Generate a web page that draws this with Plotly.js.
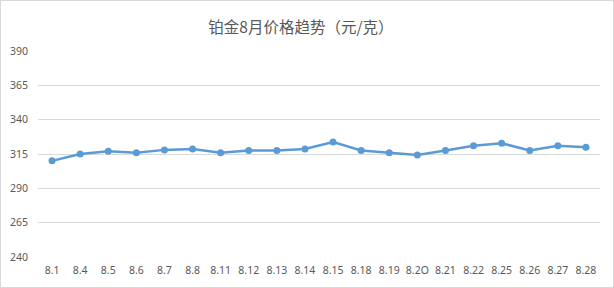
<!DOCTYPE html>
<html>
<head>
<meta charset="utf-8">
<script src="https://cdn.plot.ly/plotly-3.0.1.min.js"></script>
<style>
html,body{margin:0;padding:0;background:#fff;}
#chart{width:614px;height:288px;box-sizing:border-box;border:1px solid #d9d9d9;}
</style>
</head>
<body>
<div id="chart"></div>
<script>
const dates = ["8.1","8.4","8.5","8.6","8.7","8.8","8.11","8.12","8.13","8.14","8.15","8.18","8.19","8.2O","8.21","8.22","8.25","8.26","8.27","8.28"];
const prices = [310,315,317,316,318,318.6,316,317.6,317.6,318.6,323.7,317.6,316,314.3,317.6,321,322.8,317.6,321,320];
const yTicks = [240,265,290,315,340,365,390];
const titleText = "铂金8月价格趋势（元/克）";

const trace = {
  x: dates, y: prices, type: 'scatter', mode: 'lines+markers',
  line: {color: '#5b9bd5', width: 2.5},
  marker: {color: '#5b9bd5', size: 7},
  hoverinfo: 'x+y'
};
const layout = {
  width: 612, height: 286,
  margin: {l: 37, r: 13, t: 50, b: 30},
  paper_bgcolor: '#fff', plot_bgcolor: '#fff',
  showlegend: false,
  title: {text: titleText, x: 0.49, xanchor: 'center', y: 0.908, yanchor: 'middle',
          font: {family: '"Noto Sans CJK SC", sans-serif', size: 15.5, color: '#595959'}},
  xaxis: {type: 'category', range: [-0.5, 19.5], showgrid: false, showline: false, zeroline: false,
          ticks: '', ticklabelstandoff: 5,
          tickfont: {family: '"Noto Sans", sans-serif', size: 10.5, color: '#595959'}},
  yaxis: {range: [240, 390], tickvals: yTicks, ticktext: yTicks.map(String),
          showgrid: true, gridcolor: '#d9d9d9', gridwidth: 1, zeroline: false, showline: false,
          ticks: '', ticklabelstandoff: 9,
          tickfont: {family: '"Noto Sans", sans-serif', size: 10.5, color: '#595959'}}
};
Plotly.newPlot('chart', [trace], layout, {displayModeBar: false, staticPlot: true});
</script>
</body>
</html>
